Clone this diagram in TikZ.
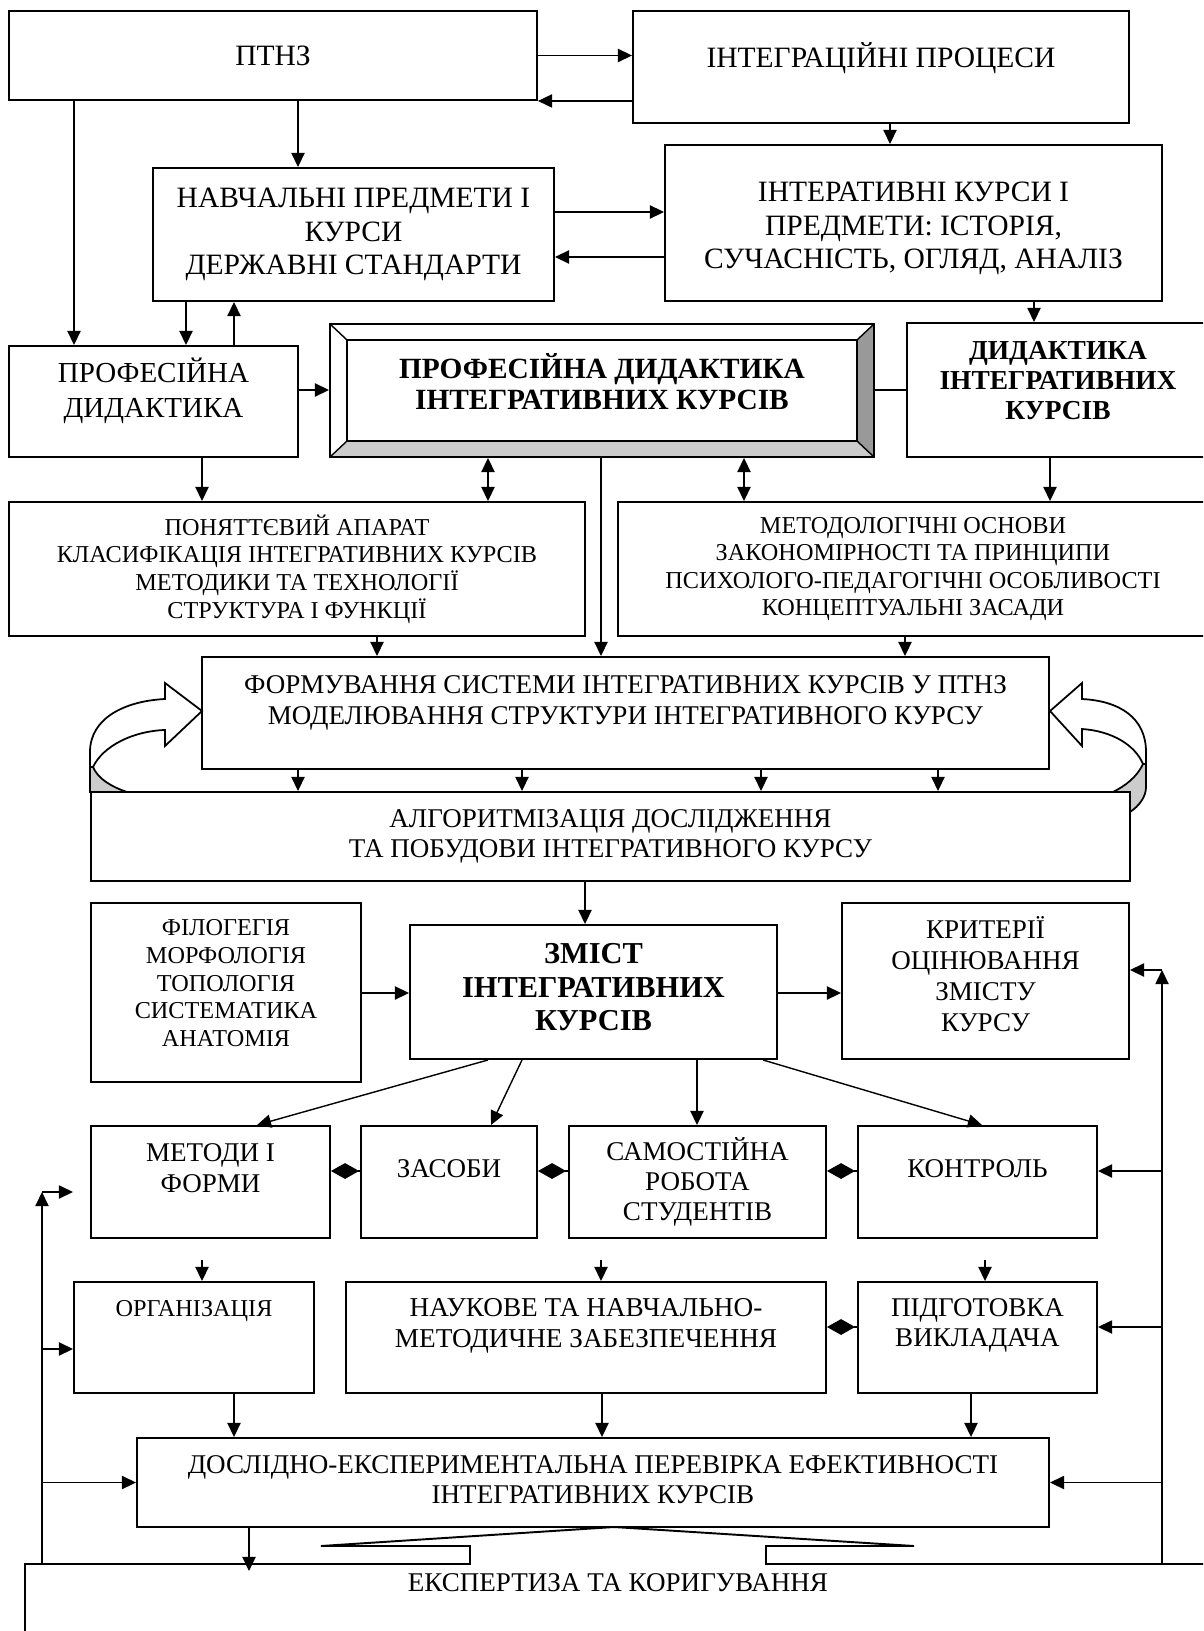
\documentclass[tikz,border=0pt]{standalone}
\usepackage{fontspec}
\setmainfont{Liberation Serif}
\usetikzlibrary{arrows.meta}

\newcommand\bigtxt{\fontsize{16.8}{19}\selectfont}
\newcommand\midtxt{\fontsize{15.4}{17.2}\selectfont}
\newcommand\smltxt{\fontsize{13.8}{15.7}\selectfont}
\newcommand\bldtxt{\fontsize{16.7}{17.5}\selectfont\bfseries}
% empty first / last line, moves the text of a box down / up
\newcommand\headsp[1]{~\\[#1]}
\newcommand\tailsp[1]{\\[#1]~}

\begin{document}
\begin{tikzpicture}[x=0.02cm, y=-0.02cm,
	box/.style={draw, line width=1.1pt, inner sep=0pt, align=center, font=\bigtxt},
	dims/.style 2 args={minimum width=#1*0.02cm, minimum height=#2*0.02cm},
	plain/.style={line width=0.8pt},
	arr/.style={plain, -{Triangle[length=8pt, width=7.5pt]}},
	darr/.style={plain, {Triangle[length=8pt, width=7.5pt]}-{Triangle[length=8pt, width=7.5pt]}},
	dia/.style={plain, {Diamond[length=16pt, width=9pt]}-}]
	
	\path[use as bounding box, clip] (0,0) rectangle (1203,1631);
	
	% curved arrows beside the forming box
	\filldraw[line width=1pt, fill=gray!40] (90,767) -- (90,792) -- (127,792) .. controls (112,787) and (98,779) .. (93,767) -- cycle;
	\filldraw[line width=1pt, fill=white] (90,767) -- (90,752) .. controls (90,718) and (125,701) .. (165,699) -- (165,683) -- (202,711) -- (165,746) -- (165,730) .. controls (133,731) and (103,746) .. (93,767) -- cycle;
	\filldraw[line width=1pt, fill=gray!40] (1113,792) .. controls (1125,786) and (1137,777) .. (1143,764) -- (1146,764) -- (1146,787) .. controls (1146,797) and (1139,806) .. (1130,812) -- (1130,792) -- cycle;
	\filldraw[line width=1pt, fill=white] (1146,764) -- (1146,752) .. controls (1146,718) and (1120,701) .. (1082,699) -- (1082,683) -- (1050,711) -- (1082,746) -- (1082,729) .. controls (1112,731) and (1135,745) .. (1143,764) -- cycle;
	
	% top part
	\node[box, dims={528}{89}] (ptnz) at (273,55.5) {ПТНЗ};
	\node[box, dims={496}{112}] (integr) at (881,67) {ІНТЕГРАЦІЙНІ ПРОЦЕСИ\tailsp{-5pt}};
	\node[box, dims={401}{133}] (navch) at (353.5,234.5) {НАВЧАЛЬНІ ПРЕДМЕТИ І\\КУРСИ\\ДЕРЖАВНІ СТАНДАРТИ};
	\node[box, dims={497}{156}] (interat) at (913.5,223) {\headsp{-1.6pt}ІНТЕРАТИВНІ КУРСИ І\\ПРЕДМЕТИ: ІСТОРІЯ,\\СУЧАСНІСТЬ, ОГЛЯД, АНАЛІЗ};
	\node[box, font=\fontsize{16.5}{19.8}\selectfont, dims={289}{111}] (profdyd) at (153.5,401.5) {ПРОФЕСІЙНА\\ДИДАКТИКА\tailsp{-4.5pt}};
	
	% bevelled box
	\fill[gray!40] (330,457) -- (347,441) -- (857,441) -- (874,457) -- cycle;
	\fill[gray!80] (874,324) -- (857,340) -- (857,441) -- (874,457) -- cycle;
	\node[box, dims={544}{133}] (main) at (602,390.5) {};
	\node[box, font=\bldtxt, dims={510}{101}] (main-in) at (602,390.5) {ПРОФЕСІЙНА ДИДАКТИКА\\ІНТЕГРАТИВНИХ КУРСІВ\tailsp{-7.1pt}};
	\draw[plain] (330,324) -- (347,340) (874,324) -- (857,340) (330,457) -- (347,441) (874,457) -- (857,441);
	
	\node[box, font=\fontsize{15.6}{17.2}\selectfont\bfseries, dims={302}{134}] (dydint) at (1058,390) {ДИДАКТИКА\\ІНТЕГРАТИВНИХ\\КУРСІВ\tailsp{-6.4pt}};
	\node[box, font=\smltxt, dims={576}{134}] (ponyat) at (297,569) {ПОНЯТТЄВИЙ АПАРАТ\\КЛАСИФІКАЦІЯ ІНТЕГРАТИВНИХ КУРСІВ\\МЕТОДИКИ ТА ТЕХНОЛОГІЇ\\СТРУКТУРА І ФУНКЦІЇ};
	\node[box, font=\smltxt, dims={590}{134}] (metodol) at (913,569) {МЕТОДОЛОГІЧНІ ОСНОВИ\\ЗАКОНОМІРНОСТІ ТА ПРИНЦИПИ\\ПСИХОЛОГО-ПЕДАГОГІЧНІ ОСОБЛИВОСТІ\\КОНЦЕПТУАЛЬНІ ЗАСАДИ};
	\node[box, font=\midtxt, dims={847}{112}] (formuv) at (625.5,713) {ФОРМУВАННЯ СИСТЕМИ ІНТЕГРАТИВНИХ КУРСІВ У ПТНЗ\\МОДЕЛЮВАННЯ СТРУКТУРИ ІНТЕГРАТИВНОГО КУРСУ\tailsp{-2.4pt}};
	\node[box, font=\midtxt, dims={1039}{89}] (algor) at (610.5,836.5) {АЛГОРИТМІЗАЦІЯ ДОСЛІДЖЕННЯ\\ТА ПОБУДОВИ ІНТЕГРАТИВНОГО КУРСУ};
	
	% content
	\node[box, font=\smltxt, dims={270}{179}] (filog) at (226,992.5) {ФІЛОГЕГІЯ\\МОРФОЛОГІЯ\\ТОПОЛОГІЯ\\СИСТЕМАТИКА\\АНАТОМІЯ\tailsp{-4.9pt}};
	\node[box, font=\fontsize{17.3}{19.2}\selectfont\bfseries, dims={367}{134}] (zmist) at (593.5,992) {ЗМІСТ\\ІНТЕГРАТИВНИХ\\КУРСІВ\tailsp{-13.5pt}};
	\node[box, font=\fontsize{15.4}{17.6}\selectfont, dims={287}{156}] (kryt) at (985.5,981) {КРИТЕРІЇ\\ОЦІНЮВАННЯ\\ЗМІСТУ\\КУРСУ\tailsp{-9.6pt}};
	\node[box, font=\midtxt, dims={239}{112}] (metody) at (210.5,1182) {МЕТОДИ І\\ФОРМИ\tailsp{-1.3pt}};
	\node[box, font=\midtxt, dims={176}{112}] (zasoby) at (449,1182) {ЗАСОБИ\tailsp{-1.3pt}};
	\node[box, font=\midtxt, dims={257}{112}] (samost) at (697.5,1182) {САМОСТІЙНА\\РОБОТА\\СТУДЕНТІВ};
	\node[box, font=\midtxt, dims={239}{112}] (kontrol) at (977.5,1182) {КОНТРОЛЬ\tailsp{-1.3pt}};
	\node[box, font=\smltxt, dims={240}{111}] (orhan) at (194,1337.5) {ОРГАНІЗАЦІЯ\tailsp{17.9pt}};
	\node[box, font=\fontsize{15.5}{17.2}\selectfont, dims={480}{111}] (naukove) at (586,1337.5) {НАУКОВЕ ТА НАВЧАЛЬНО-\\МЕТОДИЧНЕ ЗАБЕЗПЕЧЕННЯ\tailsp{-0.7pt}};
	\node[box, font=\midtxt, dims={239}{111}] (pidhot) at (977.5,1337.5) {ПІДГОТОВКА\\ВИКЛАДАЧА\tailsp{0pt}};
	\node[box, font=\midtxt, dims={912}{89}] (doslid) at (593,1482.5) {ДОСЛІДНО-ЕКСПЕРИМЕНТАЛЬНА ПЕРЕВІРКА ЕФЕКТИВНОСТІ\\ІНТЕГРАТИВНИХ КУРСІВ\tailsp{-14.2pt}};
	
	% expertise box with its notch
	\draw[line width=1.1pt] (25,1640) |- (470,1564) -- (470,1546) -- (321,1546) -- (614,1527) -- (914,1546) -- (766,1546) -- (766,1564) -- (1215,1564);
	\coordinate (ek-top) at (25,1564);
	\node[font=\midtxt, inner sep=0pt] (ekspert) at (618,1583) {ЕКСПЕРТИЗА ТА КОРИГУВАННЯ};
	
	% connectors
	\draw[arr] (ptnz.east) -- (ptnz.east -| integr.west);
	\draw[arr] (ptnz.south east -| integr.west) -- (ptnz.south east);
	\draw[arr] (integr.south -| 890,0) -- (interat.north -| 890,0);
	\draw[arr] (ptnz.south -| 298,0) -- (navch.north -| 298,0);
	\draw[arr] (ptnz.south -| 74,0) -- (profdyd.north -| 74,0);
	\draw[arr] (navch.east |- 0,212) -- (interat.west |- 0,212);
	\draw[arr] (interat.west |- 0,257) -- (navch.east |- 0,257);
	\draw[arr] (navch.south -| 186,0) -- (profdyd.north -| 186,0);
	\draw[arr] (profdyd.north -| 234,0) -- (navch.south -| 234,0);
	\draw[arr] (interat.south -| 1034,0) -- (dydint.north -| 1034,0);
	\draw[arr] (profdyd.east |- 0,390) -- (main.west |- 0,390);
	\draw[plain] (main.east |- 0,390) -- (dydint.west |- 0,390);
	\draw[arr] (profdyd.south -| 202,0) -- (ponyat.north -| 202,0);
	\draw[darr] (main.south -| 488,0) -- (ponyat.north -| 488,0);
	\draw[darr] (main.south -| 744,0) -- (metodol.north -| 744,0);
	\draw[arr] (main.south -| 601,0) -- (formuv.north -| 601,0);
	\draw[arr] (dydint.south -| 1050,0) -- (metodol.north -| 1050,0);
	\draw[arr] (ponyat.south -| 377,0) -- (formuv.north -| 377,0);
	\draw[arr] (metodol.south -| 905,0) -- (formuv.north -| 905,0);
	\foreach \x in {298,522,761,938}
		\draw[arr] (formuv.south -| \x,0) -- (algor.north -| \x,0);
	\draw[arr] (algor.south -| 585,0) -- (zmist.north -| 585,0);
	\draw[arr] (filog.east |- 0,993) -- (zmist.west |- 0,993);
	\draw[arr] (zmist.east |- 0,993) -- (kryt.west |- 0,993);
	\draw[arr] (zmist.south -| 488,0) -- (metody.north -| 257,0);
	\draw[arr] (zmist.south -| 522,0) -- (zasoby.north -| 491,0);
	\draw[arr] (zmist.south -| 697,0) -- (samost.north -| 697,0);
	\draw[arr] (zmist.south -| 763,0) -- (kontrol.north -| 982,0);
	\draw[dia] (metody.east |- 0,1171) -- (zasoby.west |- 0,1171);
	\draw[dia] (zasoby.east |- 0,1171) -- (samost.west |- 0,1171);
	\draw[dia] (samost.east |- 0,1171) -- (kontrol.west |- 0,1171);
	\draw[dia] (naukove.east |- 0,1327) -- (pidhot.west |- 0,1327);
	\draw[arr, shorten <=0.42cm] (metody.south -| 202,0) -- (orhan.north -| 202,0);
	\draw[arr, shorten <=0.42cm] (samost.south -| 601,0) -- (naukove.north -| 601,0);
	\draw[arr, shorten <=0.42cm] (kontrol.south -| 985,0) -- (pidhot.north -| 985,0);
	\draw[arr] (orhan.south -| 234,0) -- (doslid.north -| 234,0);
	\draw[arr] (naukove.south -| 602,0) -- (doslid.north -| 602,0);
	\draw[arr] (pidhot.south -| 971,0) -- (doslid.north -| 971,0);
	\draw[arr, shorten >=-0.14cm] (doslid.south -| 249,0) -- (ek-top -| 249,0);
	
	% feedback lines
	\coordinate (lturn) at (42,1192);
	\coordinate (lfree) at (73,1192);
	\coordinate (rturn) at (1162,970);
	\draw[arr] (ek-top -| lturn) -- (lturn);
	\draw[arr] (lturn) -- (lfree);
	\draw[arr] (lturn |- 0,1349) -- (orhan.west |- 0,1349);
	\draw[arr] (lturn |- doslid.west) -- (doslid.west);
	\draw[arr] (ek-top -| rturn) -- (rturn);
	\draw[arr] (rturn) -- (rturn -| kryt.east);
	\draw[arr] (rturn |- 0,1171) -- (kontrol.east |- 0,1171);
	\draw[arr] (rturn |- 0,1327) -- (pidhot.east |- 0,1327);
	\draw[arr] (rturn |- doslid.east) -- (doslid.east);
	
\end{tikzpicture}
\end{document}
